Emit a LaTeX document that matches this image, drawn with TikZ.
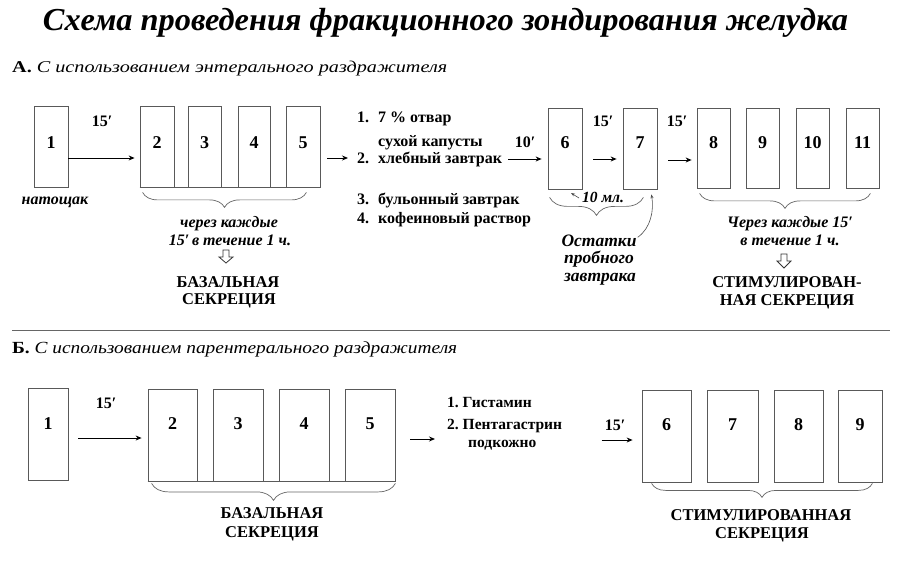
\documentclass[tikz,border=0pt]{standalone}
\usepackage{graphicx}
\usepackage{fontspec}
\setmainfont{Liberation Serif}
\usetikzlibrary{arrows.meta,decorations.pathreplacing,calc}
\newcommand{\fitw}[2]{\resizebox{#1}{\height}{#2}}
\newcommand{\fsz}[1]{\fontsize{#1}{#1}\selectfont}
\begin{document}
\begin{tikzpicture}[x=1pt,y=-1pt,
  box/.style={draw=black!65, line width=0.8pt, inner sep=0pt},
  num/.style={inner sep=0pt, anchor=base, font=\bfseries\fsz{18}},
  arr/.style={-{Stealth[length=6pt,width=5pt]}, line width=0.9pt, black},
  brc/.style={decorate, decoration={brace,mirror,amplitude=#1}, draw=black!60, line width=0.7pt},
  brc/.default=15pt,
  txt/.style={inner sep=0pt, anchor=base},
  bd/.style={txt, font=\bfseries\fsz{16.5}},
  lst/.style={txt, anchor=base west, font=\bfseries\fsz{16}},
  bi/.style={txt, font=\bfseries\itshape\fsz{16}},
  pr/.style={txt, font=\bfseries\fsz{16}},
  hol/.style={draw=black!80, line width=0.8pt, fill=white},
  thinarr/.style={-{Stealth[length=4pt,width=3pt]}, line width=0.6pt, black!70},
]
\useasboundingbox (0,0) rectangle (902,564);
\fill[white] (0,0) rectangle (902,564);

% title and headings
\node[txt, font=\bfseries\itshape\fsz{32}] (title) at (445.5,31) {\fitw{805pt}{Схема проведения фракционного зондирования желудка}};
\node[txt, anchor=base west, font=\fsz{16.5}] (headA) at (12,73) {\fitw{435pt}{\textbf{А.} \textit{С использованием энтерального раздражителя}}};
\coordinate (r1) at (12,330);
\coordinate (r2) at (890,330);
\draw[black!60, line width=1pt] (r1) -- (r2);
\node[txt, anchor=base west, font=\fsz{17}] (headB) at (12,353) {\fitw{445pt}{\textbf{Б.} \textit{С использованием парентерального раздражителя}}};

% ===== Section A =====
\node[box, minimum width=34pt, minimum height=81pt] (a1) at (51,146.5) {};
\node[box, minimum width=34pt, minimum height=81pt] (a2) at (157,146.5) {};
\node[box, minimum width=33pt, minimum height=81pt] (a3) at (204.5,146.5) {};
\node[box, minimum width=32pt, minimum height=81pt] (a4) at (254,146.5) {};
\node[box, minimum width=34pt, minimum height=81pt] (a5) at (303,146.5) {};
\draw[black!65, line width=0.8pt] (a2.south west) -- (a5.south east);
\node[box, minimum width=34pt, minimum height=81pt] (a6) at (565,148.5) {};
\node[box, minimum width=34pt, minimum height=81pt] (a7) at (640,148.5) {};
\node[box, minimum width=33pt, minimum height=80pt] (a8) at (713.5,148) {};
\node[box, minimum width=33pt, minimum height=80pt] (a9) at (762.5,148) {};
\node[box, minimum width=33pt, minimum height=80pt] (a10) at (812.5,148) {};
\node[box, minimum width=33pt, minimum height=80pt] (a11) at (862.5,148) {};

\node[num] (na1) at (51,149) {1};
\node[num] (na2) at (157,149) {2};
\node[num] (na3) at (204.5,149) {3};
\node[num] (na4) at (254,149) {4};
\node[num] (na5) at (303,149) {5};
\node[num] (na6) at (565,149) {6};
\node[num] (na7) at (640,149) {7};
\node[num] (na8) at (713.5,149) {8};
\node[num] (na9) at (762.5,149) {9};
\node[num] (na10) at (812.5,149) {10};
\node[num] (na11) at (862.5,149) {11};

\node[pr] (pa1) at (102,127) {15′};
\node[pr] (pa2) at (525,148) {10′};
\node[pr] (pa3) at (603,127) {15′};
\node[pr] (pa4) at (677,127) {15′};

\node[bi] (nat) at (55,205) {натощак};
\node[bi] (ch1) at (229,227) {через каждые};
\node[bi] (ch2) at (230,245) {15′\,в течение 1 ч.};
\node[bd] (bs1) at (228,287) {БАЗАЛЬНАЯ};
\node[bd] (bs2) at (229,304) {СЕКРЕЦИЯ};

\node[lst] (m1) at (357,123) {\makebox[21pt][l]{1.}7 \% отвар};
\node[lst] (m2) at (378,147) {сухой капусты};
\node[lst] (m3) at (357,164) {\makebox[21pt][l]{2.}хлебный завтрак};
\node[lst] (m4) at (357,205) {\makebox[21pt][l]{3.}бульонный завтрак};
\node[lst] (m5) at (357,223) {\makebox[21pt][l]{4.}кофеиновый раствор};

\node[bi, anchor=base west, font=\bfseries\itshape\fsz{15.5}] (ml) at (582,203) {10 мл.};
\node[bi, font=\bfseries\itshape\fsz{17.5}] (o1) at (599,246) {Остатки};
\node[bi, font=\bfseries\itshape\fsz{17.5}] (o2) at (599,263) {пробного};
\node[bi, font=\bfseries\itshape\fsz{17.5}] (o3) at (600,281) {завтрака};

\node[bi] (cr1) at (790,227) {Через каждые 15′};
\node[bi] (cr2) at (790,245) {в течение 1 ч.};
\node[bd] (st1) at (787,287) {СТИМУЛИРОВАН-};
\node[bd] (st2) at (787,305) {НАЯ СЕКРЕЦИЯ};

% arrows A
\draw[arr] ($(a1.east)+(0,11.5)$) -- ($(a2.west)+(-5,11.5)$);
\draw[arr] ($(a5.east)+(7,11.5)$) -- ($(m3.base west)+(-9,-6)$);
\draw[arr] ($(m3.base east)+(6,-5)$) -- ($(a6.west)+(-6,10.5)$);
\draw[arr] ($(a6.east)+(11,10.5)$) -- ($(a7.west)+(-6,10.5)$);
\draw[arr] ($(a7.east)+(11,11.5)$) -- ($(a8.west)+(-5,12)$);
\draw[thinarr] ($(ml.base west)+(-3,-5)$) -- ++(-8,-5);
\draw[thinarr] ($(o1.east)+(1,-3)$) .. controls (651,228) and (654,210) .. ($(a7.south east)+(-6,5)$);

% braces A
\draw[brc] ($(a2.south west)+(3,5)$) -- ($(a5.south east)+(-14,5)$);
\draw[brc=18pt] ($(a6.south west)+(2,8)$) -- ($(a7.south east)+(-14,8)$);
\draw[brc] ($(a8.south west)+(3,5)$) -- ($(a11.south east)+(-9,5)$);

% hollow arrows
\coordinate (h1) at (226,250);
\draw[hol] (h1) ++(-3,0) -- ++(6,0) -- ++(0,7) -- ++(4,0) -- ++(-7,6) -- ++(-7,-6) -- ++(4,0) -- cycle;
\coordinate (h2) at (784,254);
\draw[hol] (h2) ++(-3,0) -- ++(6,0) -- ++(0,7) -- ++(4,0) -- ++(-7,7) -- ++(-7,-7) -- ++(4,0) -- cycle;

% ===== Section B =====
\node[box, minimum width=40pt, minimum height=92pt] (b1) at (48,434) {};
\node[box, minimum width=49pt, minimum height=92pt] (b2) at (172.5,435) {};
\node[box, minimum width=50pt, minimum height=92pt] (b3) at (238,435) {};
\node[box, minimum width=50pt, minimum height=92pt] (b4) at (304,435) {};
\node[box, minimum width=50pt, minimum height=92pt] (b5) at (370,435) {};
\draw[black!65, line width=0.8pt] (b2.south west) -- (b5.south east);
\node[box, minimum width=49pt, minimum height=92pt] (b6) at (666.5,436) {};
\node[box, minimum width=51pt, minimum height=92pt] (b7) at (732.5,436) {};
\node[box, minimum width=49pt, minimum height=92pt] (b8) at (798.5,436) {};
\node[box, minimum width=44pt, minimum height=92pt] (b9) at (860,436) {};

\node[num] (nb1) at (48,429) {1};
\node[num] (nb2) at (172.5,429) {2};
\node[num] (nb3) at (238,429) {3};
\node[num] (nb4) at (304,429) {4};
\node[num] (nb5) at (370,429) {5};
\node[num] (nb6) at (666.5,430) {6};
\node[num] (nb7) at (732.5,430) {7};
\node[num] (nb8) at (798.5,430) {8};
\node[num] (nb9) at (860,430) {9};

\node[pr] (pb1) at (106,408) {15′};
\node[pr] (pb2) at (615,430) {15′};

\node[lst, font=\bfseries\fsz{15.5}] (g1) at (447,407) {1.\ Гистамин};
\node[lst, font=\bfseries\fsz{15.5}] (g2) at (447,429) {2.\ Пентагастрин};
\node[lst, font=\bfseries\fsz{15.5}] (g3) at (468,447) {подкожно};

\node[bd] (bb1) at (272,518) {БАЗАЛЬНАЯ};
\node[bd] (bb2) at (272,537) {СЕКРЕЦИЯ};
\node[bd] (sb1) at (761,520) {СТИМУЛИРОВАННАЯ};
\node[bd] (sb2) at (762,538) {СЕКРЕЦИЯ};

\draw[arr] ($(b1.east)+(10,4)$) -- ($(b2.west)+(-6,3)$);
\draw[arr] ($(b5.east)+(15,4)$) -- ($(g2.base west)+(-12,10)$);
\draw[arr] ($(b6.west)+(-40,4)$) -- ($(b6.west)+(-9,4)$);

\draw[brc=17pt] ($(b2.south west)+(4,2)$) -- ($(b5.south east)+(0,2)$);
\draw[brc=14pt] ($(b6.south west)+(10,1)$) -- ($(b9.south east)+(-10,1)$);
\end{tikzpicture}
\end{document}
